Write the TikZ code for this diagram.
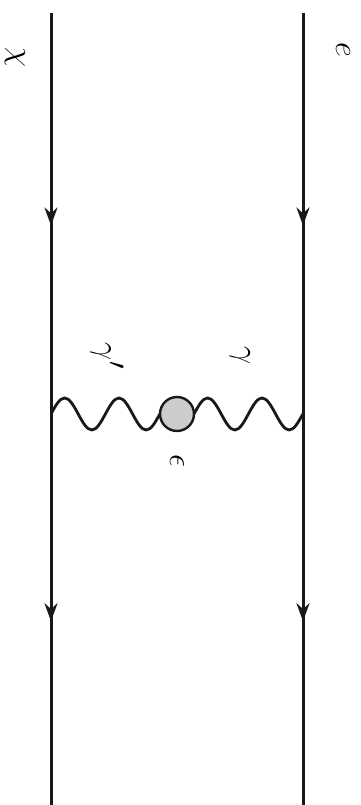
\documentclass[tikz,border=0pt]{standalone}
\usetikzlibrary{arrows.meta,decorations.markings}
\begin{document}
\begin{tikzpicture}[
		x=1pt, y=1pt,
		fermion/.style={line width=3pt, draw=black!90, postaction={decorate},
			decoration={markings, mark=at position 0.53 with {\arrow{Stealth[length=18pt,width=13pt]}}}},
		photon/.style={line width=2.8pt, draw=black!90},
		lbl/.style={rotate=-90, font=\Huge, scale=1.3}
	]
		\useasboundingbox (0,0) rectangle (361,805);
		
		% Fermion end points
		\coordinate (chiin) at (51,792);
		\coordinate (vL) at (51,391);
		\coordinate (chiout) at (51,0);
		\coordinate (ein) at (303,792);
		\coordinate (vR) at (303,391);
		\coordinate (eout) at (303,0);
		
		% Photon lines (two periods each side)
		\draw[photon] (vL) \foreach \i in {1,2} {sin ++(13.6,16) cos ++(13.6,-16) sin ++(13.6,-16) cos ++(13.6,16)};
		\draw[photon] (194,391) \foreach \i in {1,2} {sin ++(13.6,16) cos ++(13.6,-16) sin ++(13.6,-16) cos ++(13.6,16)};
		
		% Blob
		\node[circle, draw=black!90, line width=2.4pt, fill=gray!40, minimum size=34pt, inner sep=0pt] (blob) at (177,391) {};
		
		% Fermion lines
		\draw[fermion] (chiin) -- (vL);
		\draw[fermion] (vL) -- (chiout);
		\draw[fermion] (ein) -- (vR);
		\draw[fermion] (vR) -- (eout);
		
		% Labels
		\node[lbl] (lchi) at (15,748) {$\chi$};
		\node[lbl] (le) at (343,755) {$e$};
		\node[lbl] (lgp) at (107,449) {$\gamma'$};
		\node[lbl] (lg) at (240,449) {$\gamma$};
		\node[lbl] (leps) at (177,344) {$\epsilon$};
	\end{tikzpicture}
\end{document}
